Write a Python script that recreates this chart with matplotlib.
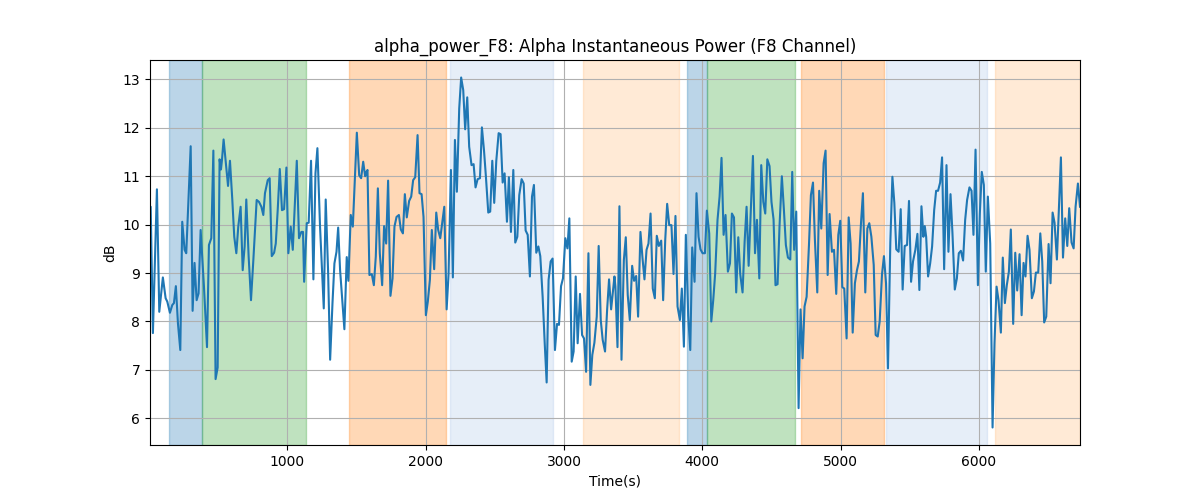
import matplotlib
matplotlib.use("Agg")
import matplotlib.pyplot as plt

time_s = [8, 13, 29, 58, 75, 101, 121, 133, 152, 169, 181, 195, 210, 227, 241, 258, 270, 302, 316, 330, 345, 359, 374, 398, 420, 434, 451, 466, 482, 497, 511, 521, 528, 540, 572, 586, 603, 617, 632, 646, 663, 678, 692, 704, 721, 738, 755, 779, 796, 813, 827, 839, 859, 873, 888, 905, 917, 931, 946, 962, 977, 994, 1008, 1025, 1040, 1069, 1085, 1102, 1114,
          1122, 1141, 1155, 1172, 1189, 1204, 1218, 1237, 1264, 1278, 1295, 1310, 1327, 1341, 1356, 1368, 1382, 1399, 1413, 1430, 1442, 1459, 1474, 1488, 1503, 1520, 1534, 1549, 1563, 1573, 1580, 1594, 1611, 1626, 1640, 1655, 1669, 1686, 1700, 1715, 1729, 1746, 1761, 1775, 1790, 1807, 1821, 1836, 1850, 1864, 1881, 1896, 1910, 1925, 1942, 1956, 1971, 1985, 2002, 2016, 2031, 2045, 2062, 2077, 2091, 2106, 2120, 2135, 2152, 2166, 2183, 2197, 2212, 2226, 2243,
          2257, 2272, 2286, 2301, 2315, 2332, 2347, 2361, 2376, 2393, 2407, 2422, 2436, 2453, 2467, 2482, 2496, 2511, 2528, 2542, 2557, 2571, 2588, 2602, 2617, 2634, 2648, 2663, 2677, 2694, 2709, 2723, 2738, 2754, 2769, 2783, 2800, 2815, 2829, 2846, 2861, 2875, 2889, 2904, 2918, 2935, 2950, 2964, 2979, 2993, 3010, 3025, 3039, 3056, 3070, 3085, 3099, 3116, 3131, 3145, 3160, 3177, 3191, 3205, 3220, 3237, 3251, 3266, 3280, 3297, 3312, 3326, 3341, 3365,
          3372, 3387, 3401, 3416, 3433, 3447, 3461, 3476, 3493, 3507, 3522, 3536, 3553, 3568, 3582, 3597, 3611, 3626, 3642, 3657, 3671, 3686, 3703, 3717, 3732, 3746, 3761, 3777, 3792, 3806, 3821, 3838, 3852, 3867, 3881, 3898, 3913, 3927, 3944, 3958, 3973, 3987, 4002, 4019, 4033, 4050, 4065, 4079, 4093, 4110, 4125, 4139, 4154, 4168, 4185, 4200, 4214, 4229, 4245, 4260, 4274, 4291, 4306, 4320, 4335, 4352, 4366, 4381, 4395, 4412, 4426, 4441, 4455, 4470,
          4486, 4500, 4515, 4529, 4544, 4558, 4575, 4590, 4604, 4619, 4636, 4650, 4664, 4679, 4696, 4710, 4725, 4739, 4754, 4771, 4785, 4800, 4814, 4831, 4845, 4860, 4877, 4891, 4906, 4920, 4937, 4952, 4968, 4983, 4997, 5012, 5026, 5043, 5058, 5072, 5087, 5103, 5118, 5132, 5147, 5161, 5178, 5193, 5207, 5222, 5239, 5253, 5268, 5282, 5299, 5313, 5328, 5342, 5359, 5374, 5388, 5402, 5419, 5434, 5448, 5463, 5480, 5494, 5509, 5523, 5540, 5555, 5569, 5584, 5598,
          5608, 5618, 5632, 5647, 5661, 5676, 5690, 5704, 5719, 5733, 5748, 5765, 5779, 5794, 5808, 5825, 5840, 5854, 5869, 5885, 5900, 5914, 5931, 5946, 5960, 5975, 5992, 6006, 6020, 6035, 6049, 6064, 6081, 6098, 6112, 6127, 6141, 6158, 6172, 6187, 6201, 6216, 6230, 6247, 6262, 6276, 6293, 6308, 6322, 6336, 6351, 6365, 6382, 6397, 6411, 6428, 6443, 6457, 6471, 6486, 6503, 6517, 6532, 6546, 6563, 6578, 6592, 6607, 6623, 6638, 6652, 6669, 6684, 6698, 6715, 6730]

power_db = [10.37, 10.37, 7.76, 10.73, 8.2, 8.91, 8.48, 8.41, 8.18, 8.34, 8.38, 8.73, 7.96, 7.41, 10.06, 9.48, 9.41, 11.62, 8.22, 9.21, 8.44, 8.58, 9.89, 8.72, 7.47, 9.58, 9.72, 11.53, 6.81, 7.05, 11.35, 11.14, 11.33, 11.76, 10.80, 11.32, 10.51, 9.75, 9.41, 9.96, 10.37, 9.06, 9.55, 10.52, 9.34, 8.44, 9.27, 10.51, 10.47, 10.37, 10.2, 10.65, 10.92, 10.96, 9.35, 9.42, 9.61, 10.30, 11.15, 10.30, 10.32, 11.18, 9.41, 9.96, 9.48, 11.32, 9.72, 9.85, 9.85,
            8.82, 10.03, 10.04, 11.32, 8.87, 11.06, 11.58, 9.96, 8.27, 10.52, 9.06, 7.21, 8.38, 9.20, 9.44, 9.94, 9.06, 8.38, 7.84, 9.33, 8.84, 10.2, 9.96, 10.89, 11.90, 11.02, 10.96, 11.30, 11.0, 11.09, 11.13, 8.96, 8.98, 8.75, 9.34, 10.75, 9.41, 8.75, 9.97, 9.61, 10.91, 8.53, 8.89, 9.96, 10.16, 10.2, 9.90, 9.82, 10.63, 10.15, 10.49, 10.58, 10.92, 10.98, 11.85, 10.65, 10.63, 10.16, 8.13, 8.41, 8.86, 9.89, 9.08, 10.25, 9.89, 9.72, 10.03, 10.37, 8.25, 8.98, 11.13, 8.91, 11.75, 10.68, 12.40,
            13.04, 12.78, 11.97, 12.63, 11.61, 11.23, 11.25, 10.77, 10.94, 10.96, 12.01, 11.54, 10.99, 10.25, 10.27, 11.32, 10.45, 11.32, 11.89, 11.87, 10.87, 11.06, 10.06, 10.98, 9.85, 11.13, 9.63, 9.75, 10.61, 10.94, 10.85, 9.88, 9.79, 8.93, 10.58, 10.82, 9.42, 9.55, 9.35, 8.51, 7.55, 6.74, 8.86, 9.24, 9.30, 7.41, 7.95, 7.93, 8.73, 8.89, 9.72, 9.51, 10.13, 7.17, 7.38, 8.93, 7.55, 8.57, 7.72, 7.65, 6.96, 9.41, 6.69, 7.31, 7.56, 8.10, 9.56, 8.03, 7.62, 7.38, 8.24, 8.87, 8.25, 8.93,
            8.72, 7.47, 10.38, 7.21, 9.27, 9.74, 8.55, 8.03, 9.15, 8.84, 8.94, 8.10, 9.85, 9.30, 8.87, 9.48, 9.61, 10.23, 8.68, 8.48, 9.77, 9.56, 9.67, 8.44, 9.68, 10.43, 9.99, 9.99, 8.98, 10.18, 8.31, 8.03, 8.68, 7.48, 9.79, 8.13, 7.41, 9.53, 8.82, 10.65, 9.75, 9.49, 9.41, 9.41, 10.29, 9.82, 8.0, 8.44, 8.99, 10.10, 10.58, 11.38, 9.79, 10.20, 9.03, 9.20, 10.23, 10.15, 8.60, 9.74, 8.98, 8.60, 9.65, 10.37, 9.15, 10.38, 11.42, 9.41, 10.10, 8.89, 11.23, 10.47, 10.23, 11.35,
            11.21, 10.47, 10.11, 8.75, 8.77, 9.96, 11.0, 10.30, 9.58, 9.32, 9.28, 11.09, 9.48, 10.27, 6.21, 8.25, 7.24, 8.31, 8.51, 9.58, 10.61, 10.87, 9.68, 8.60, 10.70, 9.92, 11.27, 11.53, 8.96, 10.22, 9.44, 9.48, 8.57, 9.79, 10.08, 8.71, 8.68, 7.65, 10.15, 9.61, 7.77, 8.79, 9.06, 9.24, 10.03, 10.65, 8.60, 9.92, 10.03, 9.75, 9.17, 7.72, 7.69, 8.0, 8.98, 9.35, 8.79, 7.03, 9.63, 10.99, 10.45, 9.49, 9.44, 10.32, 8.66, 9.56, 9.58, 10.49, 8.82, 9.24, 9.48, 9.81, 8.65, 10.38, 9.75,
            9.97, 9.75, 8.93, 9.20, 9.55, 10.30, 10.70, 10.70, 10.87, 11.39, 9.08, 11.23, 9.44, 10.63, 9.83, 8.66, 8.89, 9.41, 9.46, 9.26, 10.10, 10.51, 10.77, 10.70, 9.79, 11.55, 8.75, 10.23, 11.09, 10.82, 9.03, 10.58, 9.61, 5.81, 7.55, 8.72, 8.44, 7.77, 9.32, 8.38, 8.75, 9.03, 9.90, 7.95, 9.42, 8.64, 9.39, 8.13, 9.21, 8.93, 9.77, 9.48, 8.48, 8.62, 9.01, 9.01, 9.82, 9.24, 7.98, 8.10, 9.60, 8.79, 10.25, 10.04, 9.28, 10.37, 11.39, 9.32, 10.13, 9.56, 10.34, 9.63, 9.51, 10.37, 10.85, 10.37]

span_starts = [145, 381, 1447, 2178, 3136, 3893, 4035, 4710, 5330, 6114]
span_ends = [381, 1136, 2147, 2923, 3830, 4035, 4672, 5313, 6061, 6730]
span_colors = ["#1f77b4", "#2ca02c", "#ff7f0e", "#aec7e8", "#ffbb78",
               "#1f77b4", "#2ca02c", "#ff7f0e", "#aec7e8", "#ffbb78"]

fig, ax = plt.subplots(figsize=(12, 5), dpi=100)
for s, e, c in zip(span_starts, span_ends, span_colors):
    ax.axvspan(s, e, color=c, alpha=0.3)
ax.plot(time_s, power_db, color="#1f77b4", linewidth=1.5)
ax.set_xlim(time_s[0], time_s[-1])
ax.grid(True)
ax.set_title("alpha_power_F8: Alpha Instantaneous Power (F8 Channel)")
ax.set_xlabel("Time(s)")
ax.set_ylabel("dB")
fig.savefig("out.png")
